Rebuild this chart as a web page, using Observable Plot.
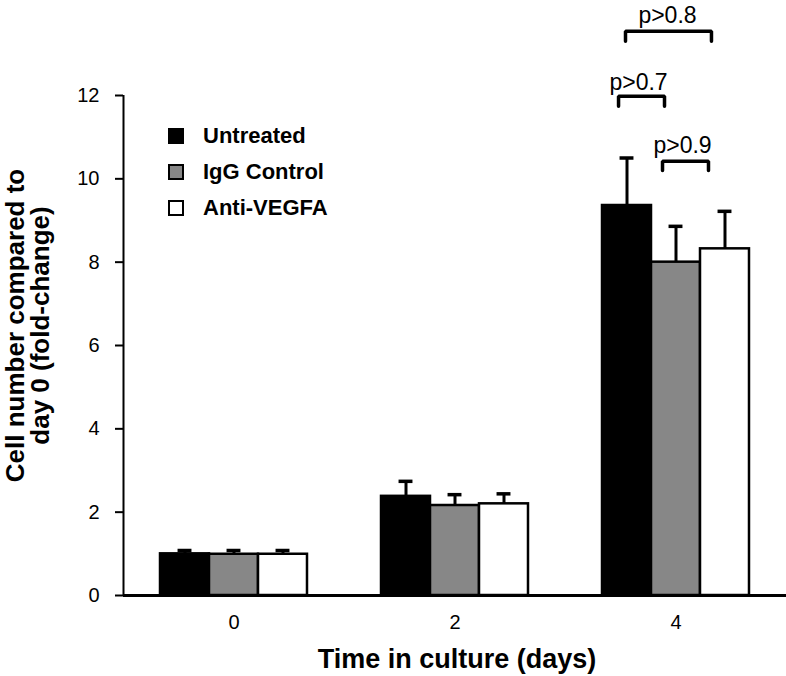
<!DOCTYPE html>
<html><head><meta charset="utf-8">
<script src="https://cdn.jsdelivr.net/npm/d3@7"></script>
<script src="https://cdn.jsdelivr.net/npm/@observablehq/plot@0.6"></script>
<style>
body{margin:0;background:#fff;}
#wrap{position:relative;width:786px;height:676px;font-family:"Liberation Sans",Arial,Helvetica,sans-serif;}
#legend{position:absolute;left:168px;top:118px;}
.row{display:flex;align-items:center;height:36px;}
.sw{width:16px;height:16px;box-sizing:border-box;border:2px solid #000;margin-right:19px;}
.lab{font-size:22px;font-weight:bold;color:#000;}
</style></head><body><div id="wrap"><div id="legend"></div></div>
<script>
// ---- data ----
const days = [0, 2, 4];
const dayLabels = ["0", "2", "4"];
const treatments = ["Untreated", "IgG Control", "Anti-VEGFA"];
const colors = ["#000000", "#878787", "#ffffff"];
const untreated = [1.00, 2.38, 9.36];
const untreatedErr = [0.08, 0.36, 1.14];
const iggControl = [0.99, 2.16, 8.00];
const iggControlErr = [0.09, 0.26, 0.86];
const antiVegfa = [0.99, 2.20, 8.32];
const antiVegfaErr = [0.09, 0.24, 0.90];
const yTicks = [0, 2, 4, 6, 8, 10, 12];

const bracketLabels = ["p>0.8", "p>0.7", "p>0.9"];
const bracketStart = [3.543, 3.480, 3.878];
const bracketEnd = [4.321, 3.896, 4.294];
const bracketTop = [13.54, 11.98, 10.42];
const bracketLeg = [13.30, 11.74, 10.20];
const labelX = [3.923, 3.661, 4.059];
const labelY = [13.75, 12.14, 10.61];

const xTitle = "Time in culture (days)";
const yTitle = "Cell number compared to\nday 0 (fold-change)";

// ---- build tables ----
const barW = 0.4434;   // bar width in day units
const capHalf = 0.063; // error cap half-width in day units
const means = [untreated, iggControl, antiVegfa];
const errs = [untreatedErr, iggControlErr, antiVegfaErr];
const bars = [];
days.forEach((day, i) => {
  treatments.forEach((t, k) => {
    const c = day + (k - 1) * barW;
    bars.push({day, treatment: t, c, x1: c - barW / 2, x2: c + barW / 2, value: means[k][i], top: means[k][i] + errs[k][i]});
  });
});
const brackets = [];
bracketLabels.forEach((lab, i) => {
  brackets.push({id: i, x: bracketStart[i], y: bracketLeg[i]});
  brackets.push({id: i, x: bracketStart[i], y: bracketTop[i]});
  brackets.push({id: i, x: bracketEnd[i], y: bracketTop[i]});
  brackets.push({id: i, x: bracketEnd[i], y: bracketLeg[i]});
});
const pLabels = bracketLabels.map((t, i) => ({t, x: labelX[i], y: labelY[i]}));

const chart = Plot.plot({
  width: 786, height: 676,
  marginLeft: 123, marginRight: 0, marginTop: 95, marginBottom: 81,
  style: {fontFamily: '"Liberation Sans", Arial, Helvetica, sans-serif', fontSize: "19px", color: "#000", background: "#fff"},
  x: {domain: [-1, 5]},
  y: {domain: [0, 12]},
  color: {domain: treatments, range: colors},
  marks: [
    Plot.rect(bars, {x1: "x1", x2: "x2", y1: 0, y2: "value", fill: "treatment", stroke: "#000", strokeWidth: 2.5}),
    Plot.ruleX(bars, {x: "c", y1: "value", y2: "top", stroke: "#000", strokeWidth: 3}),
    Plot.ruleY(bars, {y: "top", x1: d => d.c - capHalf, x2: d => d.c + capHalf, stroke: "#000", strokeWidth: 3.5}),
    Plot.line(brackets, {x: "x", y: "y", z: "id", stroke: "#000", strokeWidth: 3.5, strokeLinejoin: "miter"}),
    Plot.text(pLabels, {x: "x", y: "y", text: "t", fontSize: 23, textAnchor: "middle", lineAnchor: "bottom"}),
    Plot.ruleY([0], {stroke: "#000", strokeWidth: 3}),
    Plot.ruleX([-1], {y1: 0, y2: 12, stroke: "#000", strokeWidth: 2}),
    Plot.axisY(yTicks, {tickSize: 8, tickPadding: 16, strokeWidth: 2, fontSize: 20, label: null}),
    Plot.axisX(days, {tickSize: 0, tickPadding: 19, fontSize: 20, tickFormat: d => dayLabels[days.indexOf(d)], label: null}),
    Plot.text([xTitle], {text: d => d, frameAnchor: "bottom", dx: 2, dy: 72, lineAnchor: "bottom", fontSize: 27, fontWeight: "bold"}),
    Plot.text([yTitle], {text: d => d, frameAnchor: "left", rotate: -90, dx: -117, dy: -20, textAnchor: "middle", lineAnchor: "top", lineHeight: 0.96, fontSize: 26, fontWeight: "bold"})
  ]
});
document.getElementById("wrap").prepend(chart);
// make sure the axis tick labels use the larger size
d3.select(chart).selectAll('g[aria-label$="tick label"]').style("font-size", "20px");

// legend
const legend = document.getElementById("legend");
treatments.forEach((t, k) => {
  const row = document.createElement("div");
  row.className = "row";
  const sw = document.createElement("div");
  sw.className = "sw";
  sw.style.background = colors[k];
  const lab = document.createElement("span");
  lab.className = "lab";
  lab.textContent = t;
  row.append(sw, lab);
  legend.append(row);
});
</script></body></html>
